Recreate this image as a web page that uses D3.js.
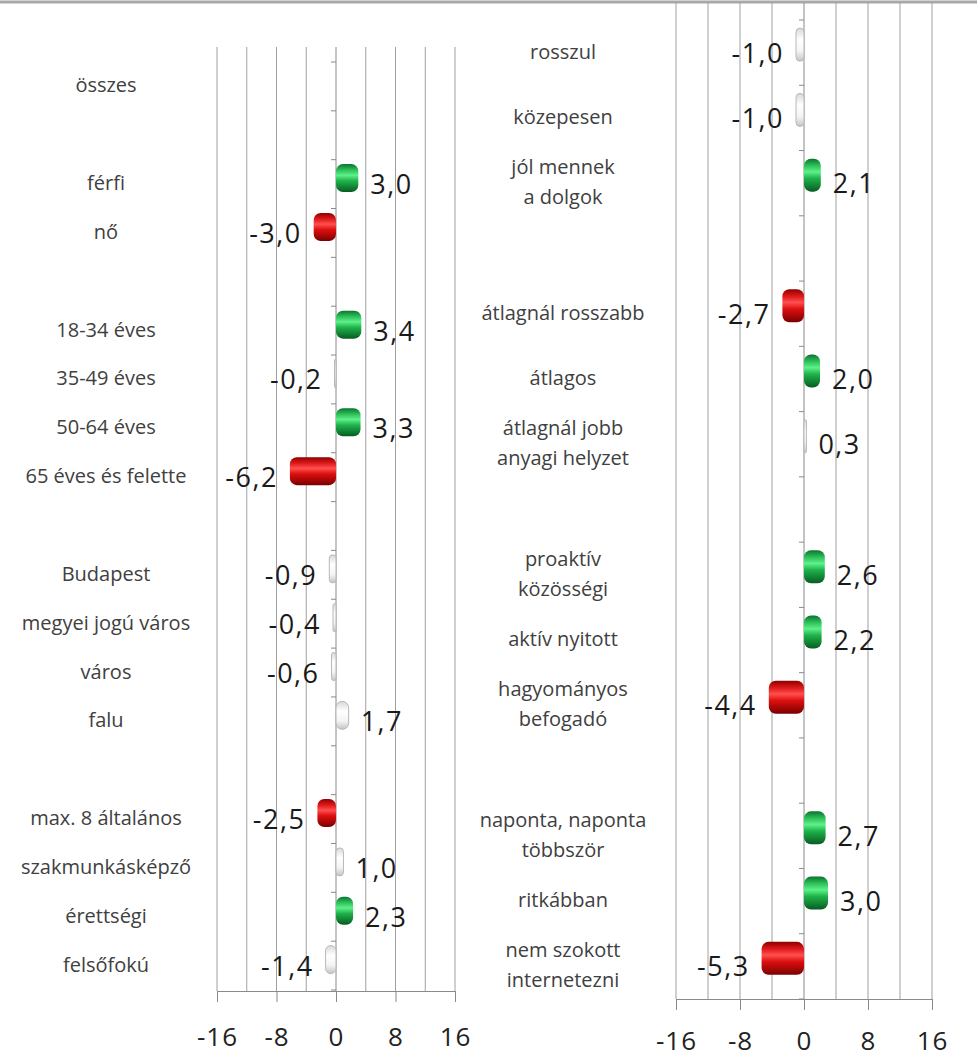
<!DOCTYPE html>
<html>
<head>
<meta charset="utf-8">
<script src="https://cdn.jsdelivr.net/npm/d3@7"></script>
<style>
  html, body { margin: 0; padding: 0; background: #ffffff; }
  svg { display: block; }
</style>
</head>
<body>
<svg id="chart" width="977" height="1059"></svg>
<script>
// ---------------- DATA ----------------
const leftCategories = ["összes", "", "férfi", "nő", "", "18-34 éves", "35-49 éves", "50-64 éves", "65 éves és felette", "",
  "Budapest", "megyei jogú város", "város", "falu", "", "max. 8 általános", "szakmunkásképző", "érettségi", "felsőfokú"];
const leftValues = [null, null, 3.0, -3.0, null, 3.4, -0.2, 3.3, -6.2, null,
  -0.9, -0.4, -0.6, 1.7, null, -2.5, 1.0, 2.3, -1.4];

const rightCategories = ["rosszul", "közepesen", "jól mennek\na dolgok", "", "átlagnál rosszabb", "átlagos",
  "átlagnál jobb\nanyagi helyzet", "", "proaktív\nközösségi", "aktív nyitott", "hagyományos\nbefogadó", "",
  "naponta, naponta\ntöbbször", "ritkábban", "nem szokott\ninternetezni"];
const rightValues = [-1.0, -1.0, 2.1, null, -2.7, 2.0, 0.3, null, 2.6, 2.2, -4.4, null, 2.7, 3.0, -5.3];

const axisTicks = [-16, -8, 0, 8, 16];
const axisTickLabels = ["-16", "-8", "0", "8", "16"];
const gridStep = 4;
const xDomain = [-16, 16];
const significanceThreshold = 2;

// ---------------- DRAW ----------------
const svg = d3.select("#chart");
const defs = svg.append("defs");

function grad(id, stops) {
  const g = defs.append("linearGradient").attr("id", id)
    .attr("x1", 0).attr("y1", 0).attr("x2", 0).attr("y2", 1);
  stops.forEach(s => g.append("stop").attr("offset", s[0]).attr("stop-color", s[1]));
}
grad("gGreen", [["0%", "#0c7430"], ["22%", "#2fc35a"], ["40%", "#5ef08a"], ["60%", "#1fb24a"], ["100%", "#075c22"]]);
grad("gRed", [["0%", "#8e0000"], ["22%", "#e01a1a"], ["40%", "#ff5050"], ["60%", "#dd0f0f"], ["100%", "#7a0000"]]);
grad("gWhite", [["0%", "#d8d8d8"], ["35%", "#ffffff"], ["70%", "#f4f4f4"], ["100%", "#c4c4c4"]]);

// top border
svg.append("line").attr("x1", 0).attr("x2", 977).attr("y1", 2).attr("y2", 2)
  .attr("stroke", "#a8a8a8").attr("stroke-width", 3);

const fmt = v => v.toFixed(1).replace(".", ",");

function drawPanel(cfg) {
  const g = svg.append("g");
  const x = d3.scaleLinear().domain(xDomain).range(cfg.xRange);
  const y = d3.scaleBand().domain(d3.range(cfg.categories.length)).range(cfg.yRange).padding(0);
  const x0 = x(0);

  // vertical gridlines
  const grid = d3.range(xDomain[0], xDomain[1] + 0.001, gridStep);
  g.selectAll("line.grid").data(grid).join("line")
    .attr("x1", d => x(d)).attr("x2", d => x(d))
    .attr("y1", cfg.gridTop).attr("y2", cfg.axisY)
    .attr("stroke", d => d === 0 ? "#8a8a8a" : "#a0a0a0").attr("stroke-width", 1);

  // category axis ticks (at band boundaries)
  const bounds = d3.range(cfg.categories.length + 1).map(i => cfg.yRange[0] + i * y.step());
  g.selectAll("line.ctick").data(bounds).join("line")
    .attr("x1", x0 - 5).attr("x2", x0).attr("y1", d => d).attr("y2", d => d)
    .attr("stroke", "#8a8a8a").attr("stroke-width", 1);

  // bottom axis
  const axis = d3.axisBottom(x).tickValues(axisTicks).tickSize(11)
    .tickFormat((d, i) => axisTickLabels[i]);
  const ag = g.append("g").attr("transform", `translate(0,${cfg.axisY})`).call(axis);
  ag.select(".domain").attr("stroke", "#8a8a8a");
  ag.selectAll(".tick line").attr("stroke", "#8a8a8a");
  ag.selectAll(".tick text")
    .attr("y", cfg.tickLabelDy)
    .attr("dy", 0)
    .attr("fill", "#222")
    .style("font-family", "'Open Sans', sans-serif")
    .style("font-size", "26px")
    .style("letter-spacing", "1px");

  // category labels
  const labels = g.selectAll("text.cat").data(cfg.categories).join("text")
    .attr("class", "cat")
    .attr("text-anchor", "middle")
    .attr("fill", "#404040")
    .style("font-family", "'Open Sans', sans-serif")
    .style("font-size", "20px");
  labels.each(function (d, i) {
    const lines = d.split("\n");
    const cy = y(i) + y.bandwidth() / 2;
    const lh = 30;
    const t = d3.select(this);
    lines.forEach((ln, j) => {
      t.append("tspan").attr("x", cfg.labelX)
        .attr("y", cy + (j - (lines.length - 1) / 2) * lh + 6)
        .text(ln);
    });
  });

  // bars
  const data = cfg.values.map((v, i) => ({ v, i })).filter(d => d.v !== null);
  const fill = v => v >= significanceThreshold ? "url(#gGreen)" : (v <= -significanceThreshold ? "url(#gRed)" : "url(#gWhite)");
  g.selectAll("rect.bar").data(data).join("rect")
    .attr("x", d => Math.min(x(d.v), x0))
    .attr("width", d => Math.max(1.5, Math.abs(x(d.v) - x0)))
    .attr("y", d => y(d.i) + y.bandwidth() / 2 - cfg.barOffset - cfg.barH / 2)
    .attr("height", cfg.barH)
    .attr("rx", d => Math.min(7, Math.abs(x(d.v) - x0) / 2))
    .attr("fill", d => fill(d.v))
    .attr("stroke", d => Math.abs(d.v) >= significanceThreshold ? "none" : "#b8b8b8")
    .attr("stroke-width", 1);

  // value labels
  g.selectAll("text.val").data(data).join("text")
    .attr("x", d => d.v >= 0 ? x(d.v) + 12 : x(d.v) - 12)
    .attr("y", d => y(d.i) + y.bandwidth() / 2 + 10)
    .attr("text-anchor", d => d.v >= 0 ? "start" : "end")
    .attr("fill", "#1a1a1a")
    .style("font-family", "'Open Sans', sans-serif")
    .style("font-size", "27px")
    .style("letter-spacing", "1.5px")
    .text(d => fmt(d.v));
}

drawPanel({
  categories: leftCategories, values: leftValues,
  xRange: [217, 455], yRange: [62, 990], gridTop: 47, axisY: 991,
  labelX: 106, barH: 28, barOffset: 6, tickLabelDy: 55
});
drawPanel({
  categories: rightCategories, values: rightValues,
  xRange: [676, 932], yRange: [20, 999], gridTop: 3, axisY: 999,
  labelX: 563, barH: 33, barOffset: 8, tickLabelDy: 51
});
</script>
</body>
</html>
